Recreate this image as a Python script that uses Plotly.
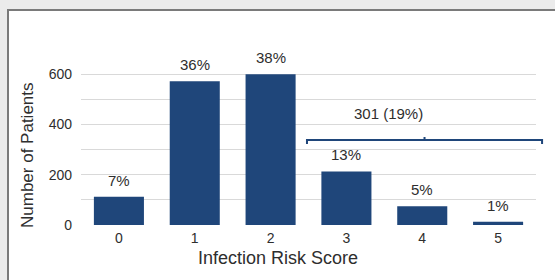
import plotly.graph_objects as go

# ---- data ----
scores = [0, 1, 2, 3, 4, 5]
score_labels = ["0", "1", "2", "3", "4", "5"]
patients = [112, 572, 600, 213, 75, 13]
pct_labels = ["7%", "36%", "38%", "13%", "5%", "1%"]
group_label = "301 (19%)"
group_from, group_to = 3, 5
group_level = 338

# ---- layout constants (pixels) ----
W, H = 555, 280
ML, MR, MT, MB = 81, 19, 49, 55
PW, PH = W - ML - MR, H - MT - MB
XR = [-0.5, 5.5]
YR = [0, 700]

BAR = "#1f467a"
TXT = "#2e2e2e"
FONT = "Liberation Sans, Arial, sans-serif"

def px_x(p):
    return (p - ML) / PW

def px_y(p):
    return (H - MB - p) / PH

def dx(v):
    return (v - XR[0]) / (XR[1] - XR[0])

def dy(v):
    return (v - YR[0]) / (YR[1] - YR[0])

fig = go.Figure()
fig.add_trace(go.Bar(x=scores, y=patients, marker=dict(color=BAR, line=dict(width=0)),
                     width=0.66, hoverinfo="skip"))

for s, v, t in zip(scores, patients, pct_labels):
    fig.add_annotation(x=s, y=v, text=t, showarrow=False, yanchor="bottom", yshift=6,
                       font=dict(family=FONT, size=15, color=TXT))

# frame (outer grey area + border)
shapes = []
shapes.append(dict(type="rect", xref="paper", yref="paper", layer="below",
                   x0=px_x(-5), x1=px_x(W + 5), y0=px_y(H + 5), y1=px_y(-5),
                   fillcolor="#ebebeb", line=dict(width=0)))
shapes.append(dict(type="rect", xref="paper", yref="paper", layer="below",
                   x0=px_x(8), x1=px_x(W + 10), y0=px_y(H + 10), y1=px_y(10),
                   fillcolor="white", line=dict(color="#7a7a7a", width=2)))

# bracket over groups 3..5
bl = dx(group_from - 0.52)
br = dx(group_to + 0.58)
bm = (bl + br) / 2
by = dy(group_level)
drop = 4 / PH
bump = 3 / PH
path = (f"M {bl},{by - drop} L {bl},{by} L {br},{by} L {br},{by - drop} "
        f"M {bm},{by} L {bm},{by + bump}")
shapes.append(dict(type="path", xref="paper", yref="paper", path=path,
                   line=dict(color=BAR, width=2)))
fig.add_annotation(xref="paper", yref="paper", x=bm, y=by, text=group_label, showarrow=False,
                   yanchor="bottom", yshift=16, font=dict(family=FONT, size=15, color=TXT))

# axis titles
fig.add_annotation(xref="paper", yref="paper", x=px_x(278), y=px_y(258), text="Infection Risk Score",
                   showarrow=False, xanchor="center", yanchor="middle",
                   font=dict(family=FONT, size=18, color=TXT))
fig.add_annotation(xref="paper", yref="paper", x=px_x(27), y=px_y(155), text="Number of Patients",
                   showarrow=False, xanchor="center", yanchor="middle", textangle=-90,
                   font=dict(family=FONT, size=17, color=TXT))

fig.update_layout(
    width=W, height=H, margin=dict(l=ML, r=MR, t=MT, b=MB),
    paper_bgcolor="white", plot_bgcolor="rgba(0,0,0,0)",
    showlegend=False, shapes=shapes,
    font=dict(family=FONT, size=12, color=TXT),
)
fig.update_xaxes(range=XR, tickvals=scores, ticktext=score_labels, showgrid=False,
                 zeroline=False, showline=False, ticks="", ticklabelstandoff=3,
                 tickfont=dict(family=FONT, size=14, color=TXT))
fig.update_yaxes(range=YR, tickvals=[0, 200, 400, 600], showgrid=True, gridcolor="#d9d9d9",
                 gridwidth=1, zeroline=False, showline=False, ticks="", ticklabelstandoff=8,
                 minor=dict(tickvals=[100, 300, 500, 700], showgrid=True, gridcolor="#d9d9d9", gridwidth=1),
                 tickfont=dict(family=FONT, size=14, color=TXT))

fig.write_html("out.html", config={"displayModeBar": False},
               post_script="document.body.style.margin='0';")
